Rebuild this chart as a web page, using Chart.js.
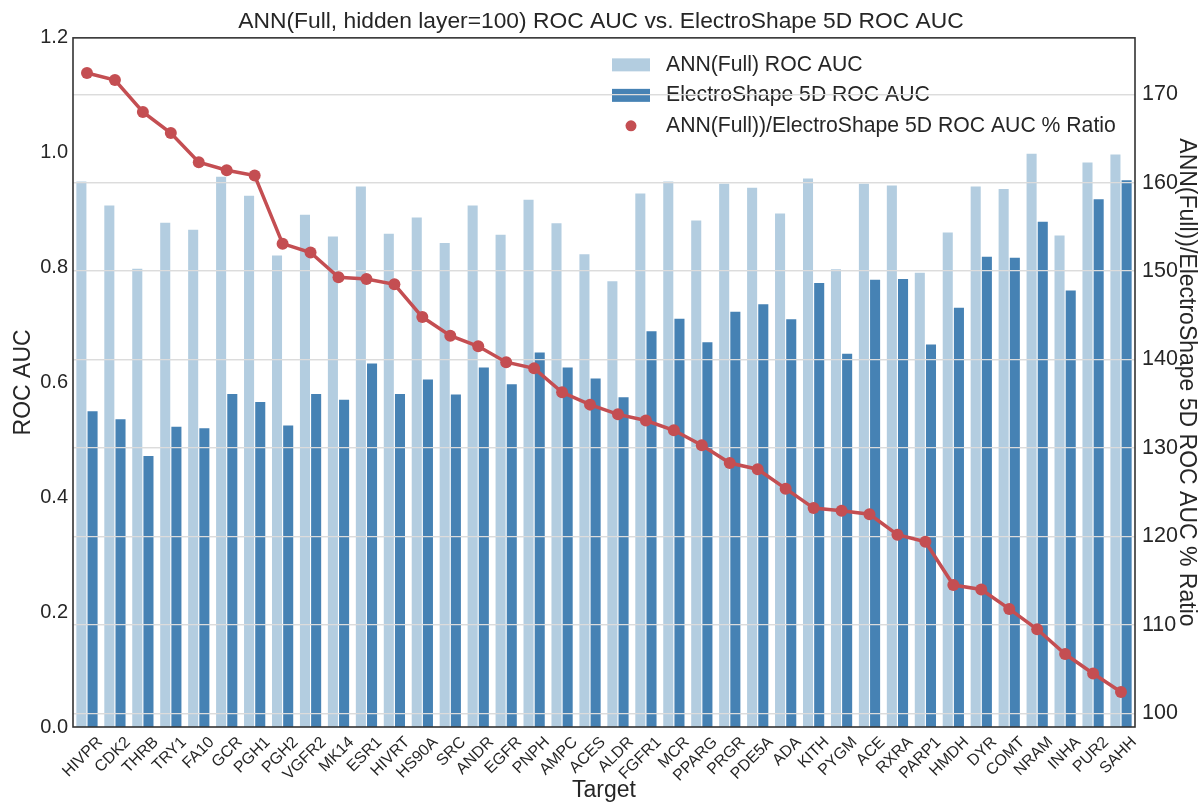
<!DOCTYPE html>
<html>
<head>
<meta charset="utf-8">
<script src="https://cdn.jsdelivr.net/npm/chart.js@4.4.1/dist/chart.umd.min.js"></script>
<style>
  html, body { margin: 0; padding: 0; background: #fff; }
</style>
</head>
<body>
<canvas id="chart" width="1202" height="802"></canvas>
<script>
// data
const targets = ['HIVPR', 'CDK2', 'THRB', 'TRY1', 'FA10', 'GCR', 'PGH1', 'PGH2', 'VGFR2', 'MK14',
    'ESR1', 'HIVRT', 'HS90A', 'SRC', 'ANDR', 'EGFR', 'PNPH', 'AMPC', 'ACES', 'ALDR',
    'FGFR1', 'MCR', 'PPARG', 'PRGR', 'PDE5A', 'ADA', 'KITH', 'PYGM', 'ACE', 'RXRA',
    'PARP1', 'HMDH', 'DYR', 'COMT', 'NRAM', 'INHA', 'PUR2', 'SAHH'];

const annAuc = [0.950, 0.908, 0.798, 0.878, 0.866, 0.958, 0.925, 0.821, 0.892, 0.854,
    0.941, 0.859, 0.887, 0.843, 0.908, 0.857, 0.918, 0.877, 0.823, 0.776,
    0.929, 0.950, 0.882, 0.946, 0.939, 0.894, 0.955, 0.797, 0.946, 0.943,
    0.791, 0.861, 0.941, 0.937, 0.998, 0.856, 0.983, 0.997];

const esAuc = [0.550, 0.536, 0.472, 0.523, 0.520, 0.580, 0.566, 0.525, 0.580, 0.570,
    0.633, 0.580, 0.605, 0.579, 0.626, 0.597, 0.652, 0.626, 0.607, 0.574,
    0.689, 0.711, 0.670, 0.723, 0.736, 0.710, 0.773, 0.650, 0.779, 0.780,
    0.666, 0.730, 0.819, 0.817, 0.880, 0.760, 0.919, 0.952];

const ratioPct = [172.4, 171.6, 168.0, 165.6, 162.3, 161.4, 160.8, 153.1, 152.1, 149.3,
    149.1, 148.5, 144.8, 142.7, 141.5, 139.7, 139.0, 136.3, 134.9, 133.8,
    133.1, 132.0, 130.3, 128.3, 127.6, 125.4, 123.2, 122.9, 122.5, 120.2,
    119.4, 114.5, 114.0, 111.8, 109.5, 106.7, 104.5, 102.4];

const aucRange = [0, 1.2];
const ratioRange = [98.45, 176.37];

Chart.defaults.font.family = '"Liberation Sans", Arial, sans-serif';
Chart.defaults.color = '#262626';

const textColor = '#262626';

// legend inside the plot, drawn under the right axis grid like the original
function drawLegend(chart) {
    const { ctx, chartArea: a } = chart;
    const x0 = a.left + 539;
    const y0 = a.top + 27;
    ctx.save();
    ctx.font = '21.2px "Liberation Sans", Arial, sans-serif';
    ctx.textBaseline = 'middle';
    chart.data.datasets.forEach((ds, i) => {
        const y = y0 + i * 30.5;
        ctx.fillStyle = ds.backgroundColor;
        if (ds.type === 'line') {
            ctx.beginPath();
            ctx.arc(x0 + 19, y, 5.5, 0, Math.PI * 2);
            ctx.fill();
        } else {
            ctx.fillRect(x0, y - 6.5, 38, 13);
        }
        ctx.fillStyle = textColor;
        ctx.fillText(ds.label, x0 + 54, y);
    });
    ctx.restore();
}

const overlay = {
    id: 'overlay',
    beforeDatasetDraw(chart, args) {
        if (args.index !== 2) return;
        drawLegend(chart);
        // grid of the twin axis sits above the bars but below the line
        chart.scales.y2.drawGrid(chart.chartArea);
    },
    afterDraw(chart) {
        const { ctx, chartArea: a } = chart;
        ctx.save();
        ctx.strokeStyle = '#333';
        ctx.lineWidth = 1.6;
        ctx.strokeRect(a.left, a.top, a.right - a.left, a.bottom - a.top);
        ctx.restore();
    }
};

new Chart(document.getElementById('chart'), {
    type: 'bar',
    data: {
        labels: targets,
        datasets: [{
            label: 'ANN(Full) ROC AUC',
            data: annAuc,
            backgroundColor: '#b3cde0',
            yAxisID: 'y',
            categoryPercentage: 0.8,
            barPercentage: 0.9
        }, {
            label: 'ElectroShape 5D ROC AUC',
            data: esAuc,
            backgroundColor: '#4682b4',
            yAxisID: 'y',
            categoryPercentage: 0.8,
            barPercentage: 0.9
        }, {
            type: 'line',
            label: 'ANN(Full))/ElectroShape 5D ROC AUC % Ratio',
            data: ratioPct,
            yAxisID: 'y2',
            borderColor: '#c44e52',
            backgroundColor: '#c44e52',
            borderWidth: 3.5,
            pointRadius: 6,
            pointBorderWidth: 0,
            tension: 0,
            order: -1
        }]
    },
    options: {
        responsive: false,
        animation: false,
        layout: { padding: 0 },
        plugins: {
            legend: { display: false },
            tooltip: { enabled: false },
            title: {
                display: true,
                text: 'ANN(Full, hidden layer=100) ROC AUC vs. ElectroShape 5D ROC AUC',
                font: { size: 22.8, weight: 'normal' },
                color: textColor,
                padding: { top: 8.5, bottom: 2 }
            }
        },
        scales: {
            x: {
                offset: true,
                grid: { display: false, drawTicks: false },
                border: { display: false },
                ticks: {
                    autoSkip: false,
                    minRotation: 45,
                    maxRotation: 45,
                    labelOffset: 13,
                    font: { size: 16 },
                    color: textColor,
                    padding: 6
                },
                title: {
                    display: true,
                    text: 'Target',
                    font: { size: 23 },
                    color: textColor,
                    padding: { top: 0, bottom: -2 }
                },
                afterFit: s => { s.height = 75; }
            },
            y: {
                position: 'left',
                min: aucRange[0],
                max: aucRange[1],
                grid: { display: false, drawTicks: false },
                border: { display: false },
                ticks: {
                    stepSize: 0.2,
                    callback: v => Number(v).toFixed(1),
                    font: { size: 20 },
                    color: textColor,
                    padding: 5
                },
                title: {
                    display: true,
                    text: 'ROC AUC',
                    font: { size: 23 },
                    color: textColor,
                    padding: { top: 10, bottom: 0 }
                },
                afterFit: s => { s.width = 73; }
            },
            y2: {
                position: 'right',
                min: ratioRange[0],
                max: ratioRange[1],
                grid: { color: '#dcdcdc', lineWidth: 1.3, drawTicks: false },
                border: { display: false },
                ticks: {
                    stepSize: 10,
                    includeBounds: false,
                    font: { size: 21.5 },
                    color: textColor,
                    padding: 7
                },
                title: {
                    display: true,
                    text: 'ANN(Full))/ElectroShape 5D ROC AUC % Ratio',
                    font: { size: 23 },
                    color: textColor,
                    padding: { top: 2, bottom: 2 }
                },
                afterFit: s => { s.width = 67; }
            }
        }
    },
    plugins: [overlay]
});
</script>
</body>
</html>
